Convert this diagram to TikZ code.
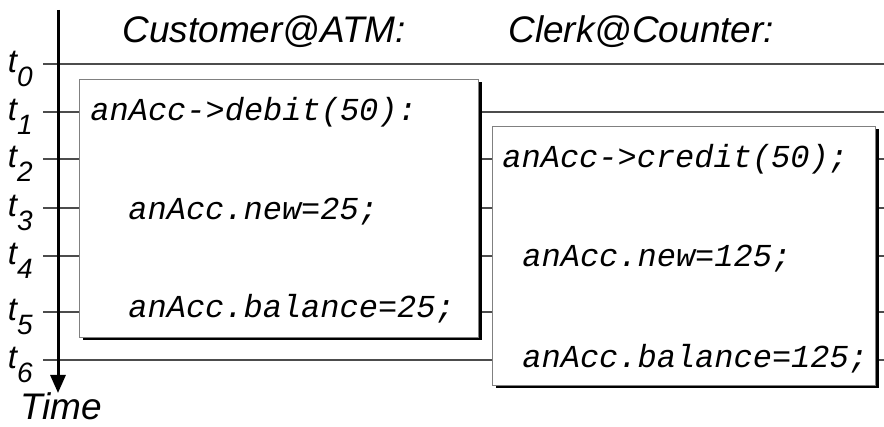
\documentclass[tikz,border=0pt]{standalone}
\usepackage{fontspec}
\setmainfont{Liberation Sans}
\setmonofont{Liberation Mono}
\usetikzlibrary{arrows.meta,shadows}

\begin{document}
\begin{tikzpicture}[x=0.5pt,y=-0.5pt,>={Triangle[length=9pt,width=7.5pt]}]
  \tikzstyle{tick}=[draw=black!70,line width=0.6pt]
  \tikzstyle{card}=[draw=black!50,line width=0.5pt,fill=white,anchor=north west,inner sep=0pt,drop shadow={opacity=1,fill=black,shadow xshift=1.5pt,shadow yshift=-1.5pt}]
  \tikzstyle{code}=[anchor=base west,inner sep=0pt,font=\fontsize{16}{18}\selectfont\ttfamily\itshape]
  \tikzstyle{head}=[anchor=base west,inner sep=0pt,font=\fontsize{18.5}{22}\selectfont\itshape]
  \tikzstyle{tlab}=[anchor=base east,inner sep=0pt,font=\fontsize{16.5}{18}\selectfont\itshape]
  \useasboundingbox (0,0) rectangle (884,427);
  % time steps
  \foreach \y [count=\i from 0] in {64,112,159,208,256,312,360} {
    \node[tlab] (t\i) at (33,\y+9) {t\raisebox{-0.8ex}{\fontsize{14}{16}\selectfont\i}};
    \coordinate (s\i) at (43,\y);
    \coordinate (e\i) at (884,\y);
    \draw[tick] (s\i) -- (e\i);
  }
  % the two transactions
  \node[card,minimum width=199.5pt,minimum height=129pt] (atm) at (79,79) {};
  \node[card,minimum width=191.5pt,minimum height=129.5pt] (counter) at (492,126) {};
  \node[code] (debit) at (90,121) {anAcc->debit(50):};
  \node[code] (newa) at (128,220) {anAcc.new=25;};
  \node[code] (bala) at (128,318) {anAcc.balance=25;};
  \node[code] (credit) at (502,168) {anAcc->credit(50);};
  \node[code] (newc) at (522,267) {anAcc.new=125;};
  \node[code] (balc) at (522,367) {anAcc.balance=125;};
  % headings
  \node[head] (customer) at (122,43) {Customer@ATM:};
  \node[head] (clerk) at (508,43) {Clerk@Counter:};
  % time axis
  \coordinate (top) at (58,10);
  \coordinate (bottom) at (58,393);
  \draw[->,line width=1.5pt] (top) -- (bottom);
  \node[head] (time) at (20,420) {Time};
\end{tikzpicture}
\end{document}
